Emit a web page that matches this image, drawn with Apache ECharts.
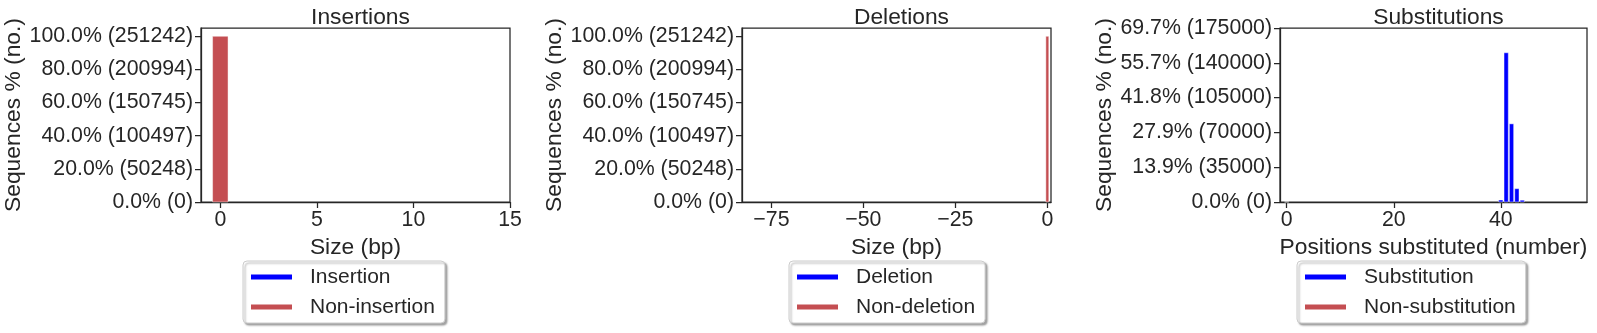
<!DOCTYPE html>
<html>
<head>
<meta charset="utf-8">
<title>Insertions, deletions and substitutions</title>
<script src="https://cdn.jsdelivr.net/npm/echarts@6/dist/echarts.min.js"></script>
<style>
  html, body { margin: 0; padding: 0; background: #ffffff; }
  #chart { width: 1597px; height: 333px; }
</style>
</head>
<body>
<div id="chart"></div>
<script>
// ---- data ----
const totalReads = 251242;

// Insertions panel
const insertionSizes = [];
const insertionCounts = [];
const nonInsertionSizes = [0];
const nonInsertionCounts = [251242];
const insXTicks = [0, 5, 10, 15];
const insXTickLabels = ['0', '5', '10', '15'];
const insYTicks = [0, 50248.4, 100496.8, 150745.2, 200993.6, 251242];
const insYTickLabels = ['0.0% (0)', '20.0% (50248)', '40.0% (100497)', '60.0% (150745)', '80.0% (200994)', '100.0% (251242)'];

// Deletions panel
const deletionSizes = [];
const deletionCounts = [];
const nonDeletionSizes = [0];
const nonDeletionCounts = [251242];
const delXTicks = [-75, -50, -25, 0];
const delXTickLabels = ['\u221275', '\u221250', '\u221225', '0'];
const delYTicks = insYTicks;
const delYTickLabels = insYTickLabels;

// Substitutions panel
const substitutionPositions = [40, 41, 42, 43, 44];
const substitutionCounts = [2000, 150100, 78600, 13400, 1800];
const nonSubstitutionPositions = [0];
const nonSubstitutionCounts = [0];
const subXTicks = [0, 20, 40];
const subXTickLabels = ['0', '20', '40'];
const subYTicks = [0, 35000, 70000, 105000, 140000, 175000];
const subYTickLabels = ['0.0% (0)', '13.9% (35000)', '27.9% (70000)', '41.8% (105000)', '55.7% (140000)', '69.7% (175000)'];

// ---- styling ----
const FONT = '"Liberation Sans", Arial, Helvetica, sans-serif';
const INK = '#262626';
const BLUE = '#0000FF';
const RED = '#C44E52';
const BAR_HALF = 0.4;

const panels = [
  {
    title: 'Insertions', xName: 'Size (bp)',
    grid: { left: 201, top: 28, width: 309, height: 174 },
    xMin: -1, xMax: 15, yMax: totalReads * 1.05,
    xTicks: insXTicks, xLabels: insXTickLabels, yTicks: insYTicks, yLabels: insYTickLabels,
    yNameGap: 173,
    series: [
      { name: 'Insertion', color: BLUE, x: insertionSizes, y: insertionCounts },
      { name: 'Non-insertion', color: RED, x: nonInsertionSizes, y: nonInsertionCounts }
    ],
    legendLeft: 243
  },
  {
    title: 'Deletions', xName: 'Size (bp)',
    grid: { left: 742, top: 28, width: 309, height: 174 },
    xMin: -83, xMax: 1, yMax: totalReads * 1.05,
    xTicks: delXTicks, xLabels: delXTickLabels, yTicks: delYTicks, yLabels: delYTickLabels,
    yNameGap: 174,
    series: [
      { name: 'Deletion', color: BLUE, x: deletionSizes, y: deletionCounts },
      { name: 'Non-deletion', color: RED, x: nonDeletionSizes, y: nonDeletionCounts }
    ],
    legendLeft: 789
  },
  {
    title: 'Substitutions', xName: 'Positions substituted (number)',
    grid: { left: 1280, top: 28, width: 307, height: 174 },
    xMin: -1.25, xMax: 56.1, yMax: 175000,
    xTicks: subXTicks, xLabels: subXTickLabels, yTicks: subYTicks, yLabels: subYTickLabels,
    yNameGap: 162,
    series: [
      { name: 'Substitution', color: BLUE, x: substitutionPositions, y: substitutionCounts },
      { name: 'Non-substitution', color: RED, x: nonSubstitutionPositions, y: nonSubstitutionCounts }
    ],
    legendLeft: 1297
  }
];

// histogram bar centred on its x value, width 0.8 in data units
function renderBar(params, api) {
  const x = api.value(0);
  const y = api.value(1);
  const p0 = api.coord([x - BAR_HALF, 0]);
  const p1 = api.coord([x + BAR_HALF, y]);
  return {
    type: 'rect',
    shape: { x: p0[0], y: p1[1], width: p1[0] - p0[0], height: p0[1] - p1[1] },
    style: api.style({ stroke: 'rgba(255,255,255,0.45)', lineWidth: 1 })
  };
}

function labelFor(ticks, labels) {
  return function (v) {
    for (let i = 0; i < ticks.length; i++) {
      if (Math.abs(ticks[i] - v) < 1e-6 * Math.max(1, Math.abs(v))) return labels[i];
    }
    return '';
  };
}

const option = {
  animation: false,
  backgroundColor: '#ffffff',
  textStyle: { fontFamily: FONT, color: INK },
  title: [], grid: [], xAxis: [], yAxis: [], series: [], legend: []
};

panels.forEach(function (p, i) {
  const g = p.grid;
  option.title.push({
    text: p.title,
    left: g.left + g.width / 2,
    top: 1,
    textAlign: 'center',
    textStyle: { fontFamily: FONT, fontSize: 22.8, fontWeight: 'normal', color: INK }
  });
  option.grid.push({
    left: g.left, top: g.top, width: g.width, height: g.height,
    show: true, borderColor: INK, borderWidth: 1.25, backgroundColor: '#ffffff'
  });
  option.xAxis.push({
    type: 'value', gridIndex: i, min: p.xMin, max: p.xMax,
    name: p.xName, nameLocation: 'middle', nameGap: 28,
    nameTextStyle: { fontFamily: FONT, fontSize: 22.8, color: INK },
    axisLine: { show: true, onZero: false, lineStyle: { color: INK, width: 1.25 } },
    axisTick: { show: true, length: 6, customValues: p.xTicks, lineStyle: { color: INK, width: 1.25 } },
    axisLabel: { customValues: p.xTicks, formatter: labelFor(p.xTicks, p.xLabels),
      fontFamily: FONT, fontSize: 21.3, color: INK, margin: 8 },
    splitLine: { show: false }
  });
  option.yAxis.push({
    type: 'value', gridIndex: i, min: 0, max: p.yMax,
    name: 'Sequences % (no.)', nameLocation: 'middle', nameGap: p.yNameGap,
    nameTextStyle: { fontFamily: FONT, fontSize: 22.8, color: INK },
    axisLine: { show: true, onZero: false, lineStyle: { color: INK, width: 1.25 } },
    axisTick: { show: true, length: 6, customValues: p.yTicks, lineStyle: { color: INK, width: 1.25 } },
    axisLabel: { customValues: p.yTicks, formatter: labelFor(p.yTicks, p.yLabels),
      fontFamily: FONT, fontSize: 21.3, color: INK, margin: 8 },
    splitLine: { show: false }
  });
  const names = [];
  p.series.forEach(function (s) {
    names.push(s.name);
    option.series.push({
      type: 'custom', name: s.name,
      xAxisIndex: i, yAxisIndex: i,
      itemStyle: { color: s.color },
      encode: { x: 0, y: 1 },
      renderItem: renderBar,
      data: s.x.map(function (x, k) { return [x, s.y[k]]; })
    });
  });
  option.legend.push({
    data: names,
    orient: 'vertical',
    left: p.legendLeft, top: 261,
    icon: 'rect', itemWidth: 41, itemHeight: 5, itemGap: 6,
    padding: [4, 10, 4, 8],
    backgroundColor: '#ffffff',
    borderColor: '#cccccc', borderWidth: 1, borderRadius: 4,
    shadowColor: 'rgba(0,0,0,0.35)', shadowBlur: 2, shadowOffsetX: 2, shadowOffsetY: 2,
    selectedMode: false,
    textStyle: { fontFamily: FONT, fontSize: 21, color: INK, lineHeight: 24, padding: [0, 0, 0, 13] }
  });
});

const chart = echarts.init(document.getElementById('chart'), null, { renderer: 'canvas' });
chart.setOption(option);
</script>
</body>
</html>
